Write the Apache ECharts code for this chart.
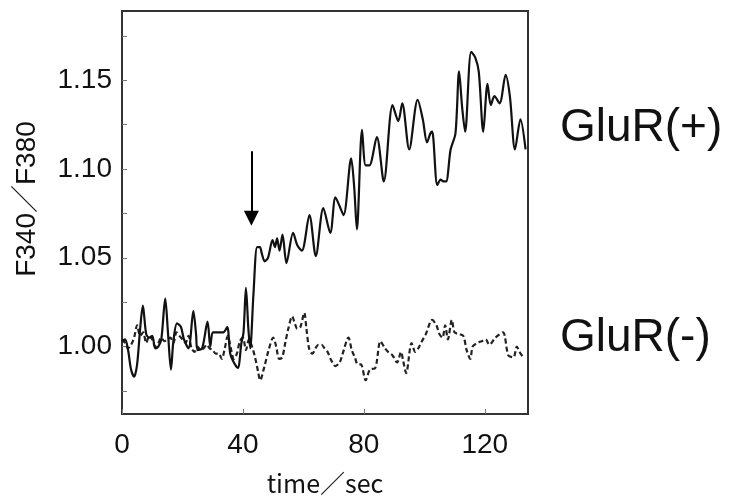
<!DOCTYPE html>
<html>
<head>
<meta charset="utf-8">
<script src="https://cdn.jsdelivr.net/npm/echarts@6/dist/echarts.min.js"></script>
<style>
html,body{margin:0;padding:0;background:#fff;}
#chart{width:734px;height:499px;}
</style>
</head>
<body>
<div id="chart"></div>
<script>
// GluR(+) trace: [time(sec), F340/F380]
const gluRPlus = [
[0,1.003],[1,1.004],[2,0.998],[3,0.987],[4,0.983],[5,0.990],[6,1.010],[6.9,1.023],[8,1.007],[9,1.005],
[10,1.006],[11,0.999],[12,1.000],[13,1.004],[14.3,1.027],[15.2,1.008],[16.2,0.987],[17,1.003],[18.2,1.013],[19.5,1.011],
[20.5,1.004],[22,0.999],[23.6,1.020],[24.5,1.007],[25,0.998],[26.5,0.999],[28.3,1.014],[29.2,1.000],[30,1.008],[31,1.008],
[32,1.008],[33.5,1.008],[34.8,1.011],[35.8,0.996],[37,0.991],[38.3,0.988],[39.5,1.002],[40.2,1.008],[41,1.033],[41.8,1.010],
[42.4,0.999],[43.5,1.030],[44.7,1.056],[45.6,1.056],[46.3,1.052],[47.2,1.048],[48.3,1.050],[49.8,1.060],[50.6,1.056],[51.3,1.061],
[52.1,1.054],[53.1,1.063],[54.4,1.047],[56.6,1.064],[58,1.057],[59.5,1.054],[62,1.074],[64.1,1.051],[66.6,1.078],[68.9,1.064],
[70.6,1.084],[72,1.079],[73.3,1.074],[75.8,1.106],[76.8,1.090],[77.7,1.066],[79.4,1.122],[80.6,1.102],[81.8,1.102],[84.3,1.118],
[86.6,1.093],[89.5,1.136],[91.4,1.127],[92.7,1.137],[95,1.111],[97.8,1.139],[99.5,1.128],[100.9,1.115],[102,1.120],[102.6,1.121],
[104.3,1.091],[105.4,1.094],[106.3,1.093],[107.2,1.093],[108.7,1.111],[110.3,1.120],[111.5,1.155],[112.5,1.135],[113.5,1.121],[115.5,1.166],
[116.8,1.163],[118,1.155],[119.5,1.121],[120.9,1.148],[122,1.136],[123.2,1.141],[124.9,1.137],[126.9,1.153],[128.3,1.141],[130,1.111],
[131.8,1.128],[133.5,1.111]
];
// GluR(-) trace: [time(sec), F340/F380]
const gluRMinus = [
[0,1.004],[1,1.002],[2,0.999],[3,1.001],[4,1.005],[5,1.012],[6,1.006],[7,1.008],[8,1.002],[9,1.006],
[10,1.004],[11,1.000],[12,1.002],[13,1.005],[14,1.003],[15,1.004],[16,1.005],[17,1.002],[18,1.008],[19,1.006],
[20,1.004],[21,1.002],[22,1.006],[23,0.999],[24,0.997],[25,1.000],[26,0.998],[27,0.999],[28,1.001],[29,0.999],
[30,0.998],[31,0.996],[32,0.996],[33,0.993],[34,0.999],[35,1.006],[36,0.999],[37,0.993],[38,0.996],[39,1.003],
[40,1.005],[41,0.998],[42,1.004],[43,1.000],[44,0.994],[45,0.986],[45.7,0.981],[47,0.988],[48.5,0.998],[50,1.005],
[51,1.000],[52,0.993],[53,0.994],[54,1.002],[55,1.010],[56.3,1.017],[57,1.014],[58,1.010],[59,1.011],[60.3,1.019],
[61,1.010],[62,0.998],[63,0.996],[64,0.999],[65,1.001],[66,1.001],[67,0.999],[68,0.997],[69,0.993],[70.6,0.989],
[72,0.991],[73,0.996],[74.9,1.005],[76,0.998],[77,0.994],[78,0.990],[79,0.990],[80.6,0.981],[82,0.987],[83.8,0.988],
[85.5,1.003],[87,0.999],[88,0.997],[89.5,0.995],[91,0.991],[92.3,0.997],[93,0.992],[94,0.985],[95.8,1.002],[97,0.997],
[98,0.999],[99.2,1.003],[100.5,1.007],[102.6,1.015],[104,1.012],[105,1.007],[106,1.005],[106.9,1.012],[107.8,1.004],[109.1,1.015],
[110,1.008],[111.5,1.007],[112.9,1.006],[114,0.998],[115.2,0.993],[116,1.000],[117.5,1.002],[119,1.003],[120.3,1.004],[121.5,1.001],
[123.5,1.005],[126,1.008],[127.8,0.995],[129.5,0.994],[130.6,1.000],[131.5,0.997],[132.7,0.994]
];
// axis ranges and ticks
const xMin = 0, xMax = 134.3;
const yMin = 0.962, yMax = 1.189;
const xTickLabels = [0, 40, 80, 120];
const yTickLabels = [1.00, 1.05, 1.10, 1.15];
const yTicks = [0.975, 1.0, 1.025, 1.05, 1.075, 1.1, 1.125, 1.15, 1.175];
// stimulus arrow (time, from value, to value at arrowhead centre)
const arrowX = 42.8, arrowFrom = 1.110, arrowTo = 1.0722;
const labelPlus = 'GluR(+)', labelMinus = 'GluR(-)';
const xName = 'time／sec', yName = 'F340／F380';

const chart = echarts.init(document.getElementById('chart'), null, {renderer: 'canvas'});
const ink = '#111';
const sans = 'Liberation Sans, Arial, sans-serif';
chart.setOption({
  animation: false,
  backgroundColor: '#fff',
  title: [
    {text: labelPlus, left: 555, top: 100, textStyle: {fontFamily: sans, fontSize: 46, fontWeight: 'normal', color: ink}},
    {text: labelMinus, left: 555, top: 310, textStyle: {fontFamily: sans, fontSize: 46, fontWeight: 'normal', color: ink}}
  ],
  graphic: [
    {type: 'text', x: 27, y: 199, rotation: Math.PI / 2, silent: true,
     style: {text: yName, fontFamily: 'Liberation Sans, Noto Sans CJK JP, sans-serif', fontSize: 28,
             fill: ink, align: 'center', verticalAlign: 'middle'}}
  ],
  grid: {left: 122, top: 11, right: 206, bottom: 85, containLabel: false, outerBoundsMode: 'none',
         show: true, borderColor: '#333', borderWidth: 2, backgroundColor: '#fff'},
  xAxis: {
    type: 'value', min: xMin, max: xMax,
    name: xName, nameLocation: 'middle', nameGap: 57,
    nameTextStyle: {fontFamily: 'Noto Sans CJK JP, sans-serif', fontSize: 25, color: ink},
    axisLine: {show: true, onZero: false, lineStyle: {color: '#333', width: 2}},
    axisTick: {show: true, inside: true, length: 5, lineStyle: {color: '#777', width: 1}, customValues: xTickLabels},
    axisLabel: {show: true, margin: 17, fontFamily: sans, fontSize: 28, color: ink,
                customValues: xTickLabels, formatter: v => String(Math.round(v))},
    splitLine: {show: false}
  },
  yAxis: {
    type: 'value', min: yMin, max: yMax,
    axisLine: {show: true, onZero: false, lineStyle: {color: '#333', width: 2}},
    axisTick: {show: true, inside: true, length: 5, lineStyle: {color: '#777', width: 1}, customValues: yTicks},
    axisLabel: {show: true, margin: 10, fontFamily: sans, fontSize: 28, color: ink,
                customValues: yTickLabels, formatter: v => v.toFixed(2)},
    splitLine: {show: false}
  },
  series: [
    {
      name: labelMinus, type: 'line', data: gluRMinus, showSymbol: false, smooth: 0.3,
      lineStyle: {color: '#222', width: 2.2, type: [5, 3]}, z: 2
    },
    {
      name: labelPlus, type: 'line', data: gluRPlus, showSymbol: false, smooth: 0.3,
      lineStyle: {color: '#111', width: 2.2}, z: 3,
      markLine: {
        silent: true, animation: false, symbol: ['none', 'triangle'], symbolSize: [15, 15],
        label: {show: false},
        lineStyle: {color: '#000', width: 2, type: 'solid'},
        emphasis: {disabled: true},
        data: [[{coord: [arrowX, arrowFrom]}, {coord: [arrowX, arrowTo]}]]
      }
    }
  ]
});
</script>
</body>
</html>
